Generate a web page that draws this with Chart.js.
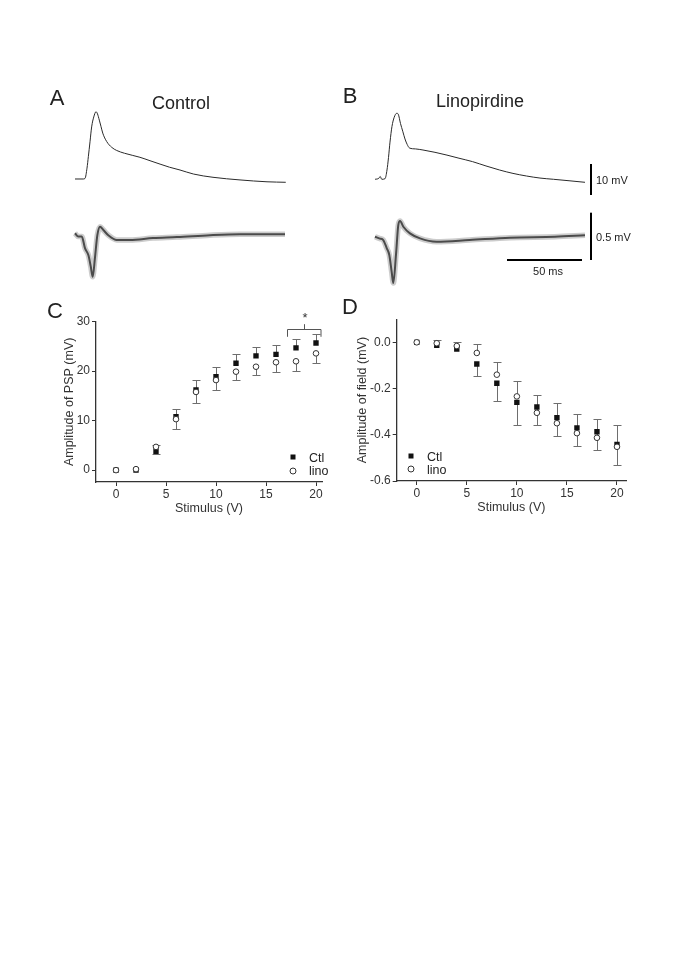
<!DOCTYPE html>
<html>
<head>
<meta charset="utf-8">
<script src="https://cdn.jsdelivr.net/npm/chart.js@4.4.0/dist/chart.umd.min.js"></script>
<style>
  html,body{margin:0;padding:0;background:#fff;}
  body{width:685px;height:969px;position:relative;overflow:hidden;font-family:"Liberation Sans",Arial,sans-serif;color:#222;}
  .box{position:absolute;}
  .lbl{position:absolute;white-space:nowrap;line-height:1;transform:translate(-50%,-50%);color:#222;}
  .lft{position:absolute;white-space:nowrap;line-height:1;transform:translate(0,-50%);color:#222;}
  .sq{position:absolute;width:5px;height:5px;background:#111;transform:translate(-50%,-50%);}
  .ci{position:absolute;width:5px;height:5px;border:1px solid #333;border-radius:50%;background:#fff;transform:translate(-50%,-50%);}
</style>
</head>
<body>
<div class="box" style="left:60px;top:100px;"><canvas id="cA" width="240" height="200"></canvas></div>
<div class="box" style="left:360px;top:100px;"><canvas id="cB" width="280" height="200"></canvas></div>
<div class="box" style="left:40px;top:300px;"><canvas id="cC" width="300" height="230"></canvas></div>
<div class="box" style="left:340px;top:300px;"><canvas id="cD" width="300" height="230"></canvas></div>

<div class="lbl" style="left:57px;top:98px;font-size:22px;">A</div>
<div class="lbl" style="left:181px;top:103px;font-size:18px;">Control</div>
<div class="lbl" style="left:350px;top:96px;font-size:22px;">B</div>
<div class="lbl" style="left:480px;top:101px;font-size:18px;">Linopirdine</div>
<div class="lbl" style="left:55px;top:311px;font-size:22px;">C</div>
<div class="lbl" style="left:350px;top:307px;font-size:22px;">D</div>

<div class="lft" style="left:596px;top:180px;font-size:11px;">10 mV</div>
<div class="lft" style="left:596px;top:237px;font-size:11px;">0.5 mV</div>
<div class="lbl" style="left:548px;top:271px;font-size:11px;">50 ms</div>

<div class="sq" style="left:293px;top:457px;"></div>
<div class="lft" style="left:309px;top:458px;font-size:12.5px;">Ctl</div>
<div class="ci" style="left:293px;top:471px;"></div>
<div class="lft" style="left:309px;top:471px;font-size:12.5px;">lino</div>

<div class="sq" style="left:411px;top:456px;"></div>
<div class="lft" style="left:427px;top:457px;font-size:12.5px;">Ctl</div>
<div class="ci" style="left:411px;top:469px;"></div>
<div class="lft" style="left:427px;top:470px;font-size:12.5px;">lino</div>

<script>
// ---------- DATA ----------
// Traces (time in ms, voltage in mV)
const tPspA = [0, 5.5, 6.7, 8, 8.9, 10, 11.1, 12.5, 14, 15, 16.2, 17.3, 18.5, 21.1, 24.5, 27.8, 33, 43.3, 50, 56.7, 63, 70, 79, 92, 110, 128, 140.5];
const vPspA = [0, 0, 0.2, 3.5, 7.2, 12, 16.8, 20, 21.7, 21, 19, 17, 14.8, 12.1, 10.2, 9.2, 8.3, 7.0, 5.9, 4.8, 3.8, 2.9, 1.6, 0.55, -0.3, -0.9, -1.06];
const tFieldA = [0, 2.2, 4.5, 6.7, 8.9, 10.5, 11.8, 13.3, 14.9, 16.7, 18.9, 22.2, 27.8, 36.7, 52, 68, 90, 110, 140];
const vFieldA = [0, -0.035, -0.035, -0.16, -0.23, -0.35, -0.46, -0.26, -0.02, 0.07, 0.035, -0.02, -0.07, -0.07, -0.05, -0.04, -0.02, -0.01, -0.01];

const tPspB = [0, 2.5, 3.5, 4.5, 6.7, 8, 9, 10, 11.3, 12.8, 14.5, 15.5, 17, 18.5, 20, 21.5, 23, 27, 32, 40, 48, 56, 65, 74, 83, 92, 101, 110, 119, 130, 140];
const vPspB = [0, 0.3, 0.9, 0, 0.2, 3, 7, 12, 17, 20, 21.3, 21, 18, 15.5, 13, 11.2, 10.1, 9.8, 9.45, 8.7, 7.8, 6.8, 5.7, 4.3, 3.0, 1.9, 1.06, 0.4, 0, -0.5, -0.97];
const tFieldB = [0, 3.3, 5.5, 7.8, 9.5, 11.1, 12.2, 14, 15.5, 16.7, 18.9, 23.3, 30, 41, 63, 90, 120, 140];
const vFieldB = [0, -0.02, -0.035, -0.12, -0.19, -0.37, -0.49, -0.19, 0.12, 0.165, 0.105, 0.035, -0.018, -0.053, -0.035, -0.01, 0, 0.015];

// Scale bars (data units)
const barPspMv = 10, barFieldMv = 0.5, barMs = 50;

// Stimulus–response data
const stimulus = [0, 2, 4, 6, 8, 10, 12, 14, 16, 18, 20];
const pspCtl  = [0, 0, 3.8, 10.8, 16.2, 18.9, 21.6, 23.1, 23.4, 24.7, 25.7];
const pspCtlSem  = [0, 0, 1.3, 1.6, 2.0, 2.0, 1.9, 1.8, 1.9, 1.8, 1.8];
const pspLino = [0, 0.2, 4.7, 10.3, 15.8, 18.2, 19.9, 20.9, 21.8, 22.0, 23.6];
const pspLinoSem = [0, 0, 1.5, 1.9, 2.3, 2.0, 1.7, 1.7, 2.0, 1.9, 2.0];

const fieldCtl  = [0, -0.013, -0.029, -0.094, -0.177, -0.26, -0.28, -0.326, -0.37, -0.387, -0.442];
const fieldCtlSem  = [0, 0, 0, 0.053, 0.077, 0.098, 0.077, 0.08, 0.077, 0.079, 0.09];
const fieldLino = [0, -0.004, -0.016, -0.046, -0.14, -0.234, -0.305, -0.35, -0.393, -0.413, -0.452];
const fieldLinoSem = [0, 0.013, 0.019, 0.04, 0.054, 0.066, 0.076, 0.087, 0.085, 0.082, 0.095];

const xTicks = [0, 5, 10, 15, 20];
const pspTicks = [0, 10, 20, 30];
const fieldTicks = [-0.6, -0.4, -0.2, 0.0];

// ---------- HELPERS ----------
const FONT = '"Liberation Sans", Arial, sans-serif';
const pts = (xs, ys) => xs.map((x, i) => ({x, y: ys[i]}));
Chart.defaults.font.family = FONT;
Chart.defaults.animation = false;

function traceChart(id, tP, vP, tF, vF, xr, y1r, y2r, bars) {
  const smooth = {cubicInterpolationMode: 'monotone', pointRadius: 0};
  const datasets = [
    {data: pts(tP, vP), yAxisID: 'y1', borderColor: '#2a2a2a', borderWidth: 1, ...smooth},
    {data: pts(tF, vF), yAxisID: 'y2', borderColor: 'rgba(110,110,110,0.35)', borderWidth: 5.5, ...smooth},
    {data: pts(tF, vF), yAxisID: 'y2', borderColor: '#3a3a3a', borderWidth: 2, ...smooth}
  ];
  if (bars) {
    const tb = 144;
    datasets.push({data: [{x: tb, y: -barPspMv / 2 - 0.06}, {x: tb, y: barPspMv / 2 - 0.06}], yAxisID: 'y1', borderColor: '#000', borderWidth: 2, pointRadius: 0});
    datasets.push({data: [{x: tb, y: -barFieldMv / 2 + 0.004}, {x: tb, y: barFieldMv / 2 + 0.004}], yAxisID: 'y2', borderColor: '#000', borderWidth: 2, pointRadius: 0});
    datasets.push({data: [{x: 88, y: -barFieldMv / 2 + 0.004}, {x: 88 + barMs, y: -barFieldMv / 2 + 0.004}], yAxisID: 'y2', borderColor: '#000', borderWidth: 2, pointRadius: 0});
  }
  return new Chart(document.getElementById(id), {
    type: 'line',
    data: {datasets},
    options: {
      responsive: false, events: [], layout: {padding: 0},
      plugins: {legend: {display: false}, tooltip: {enabled: false}},
      scales: {
        x: {type: 'linear', display: false, min: xr[0], max: xr[1]},
        y1: {type: 'linear', display: false, min: y1r[0], max: y1r[1]},
        y2: {type: 'linear', display: false, min: y2r[0], max: y2r[1]}
      }
    }
  });
}

traceChart('cA', tPspA, vPspA, tFieldA, vFieldA, [-10, 150], [-39.03, 25.48], [-0.705, 1.409], false);
traceChart('cB', tPspB, vPspB, tFieldB, vFieldB, [-10, 176.67], [-38.94, 25.58], [-0.669, 1.445], true);

function errPlugin(xs, sets) {
  return {
    id: 'errBars',
    beforeDatasetsDraw(chart) {
      const {ctx, scales: {x, y}} = chart;
      ctx.save();
      ctx.strokeStyle = '#6e6e6e';
      ctx.lineWidth = 1;
      sets.forEach(s => {
        s.vals.forEach((v, i) => {
          const e = s.sem[i];
          if (!e) return;
          const px = Math.round(x.getPixelForValue(xs[i])) + 0.5;
          const p0 = y.getPixelForValue(v);
          const p1 = Math.round(y.getPixelForValue(v + s.dir * e)) + 0.5;
          ctx.beginPath();
          ctx.moveTo(px, p0); ctx.lineTo(px, p1);
          ctx.moveTo(px - 4, p1); ctx.lineTo(px + 4, p1);
          ctx.stroke();
        });
      });
      ctx.restore();
    }
  };
}

const bracketPlugin = {
  id: 'bracket',
  afterDatasetsDraw(chart) {
    const {ctx, scales: {x, y}} = chart;
    const xl = x.getPixelForValue(17.15), xr = x.getPixelForValue(20.5), xc = x.getPixelForValue(18.85);
    const yt = Math.round(y.getPixelForValue(28.45)) + 0.5, yb = y.getPixelForValue(26.95), yc = y.getPixelForValue(29.5);
    ctx.save();
    ctx.strokeStyle = '#555'; ctx.lineWidth = 1;
    ctx.beginPath();
    ctx.moveTo(xl, yb); ctx.lineTo(xl, yt); ctx.lineTo(xr, yt); ctx.lineTo(xr, yb);
    ctx.moveTo(xc, yt); ctx.lineTo(xc, yc);
    ctx.stroke();
    ctx.fillStyle = '#333';
    ctx.font = '13px ' + FONT;
    ctx.textAlign = 'center'; ctx.textBaseline = 'middle';
    ctx.fillText('*', x.getPixelForValue(18.9), y.getPixelForValue(30.6));
    ctx.restore();
  }
};

function axisOpts(min, max, ticks, title, fmt, fitSize, isY, titlePad) {
  return {
    type: 'linear', min, max,
    afterBuildTicks: s => { s.ticks = ticks.map(v => ({value: v})); },
    afterFit: s => { if (isY) s.width = fitSize; else s.height = fitSize; },
    grid: {display: true, drawOnChartArea: false, drawTicks: true, tickLength: 4, color: '#333', lineWidth: 1},
    border: {display: true, color: '#333', width: 1.3},
    ticks: {color: '#333', font: {size: 12, family: FONT}, padding: isY ? 2 : 1, callback: fmt, autoSkip: false, maxRotation: 0},
    title: {display: true, text: title, color: '#333', font: {size: 12.5, family: FONT}, padding: titlePad}
  };
}

function scatterChart(id, ctl, lino, sets, xr, yr, yTicks, yTitle, yFmt, geom, extra) {
  const plugins = [errPlugin(stimulus, sets)];
  if (extra) plugins.push(extra);
  return new Chart(document.getElementById(id), {
    type: 'scatter',
    data: {datasets: [
      {label: 'Ctl', data: pts(stimulus, ctl), pointStyle: 'rect', pointRadius: 3.8, backgroundColor: '#111', borderColor: '#111', borderWidth: 0, order: 2},
      {label: 'lino', data: pts(stimulus, lino), pointStyle: 'circle', pointRadius: 2.8, backgroundColor: '#fff', borderColor: '#333', borderWidth: 1, order: 1}
    ]},
    options: {
      responsive: false, events: [],
      layout: {padding: {left: 0, top: geom.top, right: geom.right, bottom: 0}},
      plugins: {legend: {display: false}, tooltip: {enabled: false}},
      scales: {
        x: axisOpts(xr[0], xr[1], xTicks, 'Stimulus (V)', v => String(v), geom.xh, false, {top: 0, bottom: geom.xtp}),
        y: axisOpts(yr[0], yr[1], yTicks, yTitle, yFmt, geom.yw, true, {top: geom.ytp, bottom: 0})
      }
    },
    plugins
  });
}

scatterChart('cC', pspCtl, pspLino,
  [{vals: pspCtl, sem: pspCtlSem, dir: 1}, {vals: pspLino, sem: pspLinoSem, dir: -1}],
  [-2.0, 20.6], [-2.4, 30], pspTicks, 'Amplitude of PSP (mV)', v => String(v),
  {top: 21.7, right: 18, xh: 48, yw: 56, xtp: 14, ytp: 22.5}, bracketPlugin);

scatterChart('cD', fieldCtl, fieldLino,
  [{vals: fieldLino, sem: fieldLinoSem, dir: 1}, {vals: fieldCtl, sem: fieldCtlSem, dir: -1}],
  [-2.0, 20.9], [-0.6, 0.1], fieldTicks, 'Amplitude of field (mV)', v => Number(v).toFixed(1),
  {top: 19.2, right: 14, xh: 49, yw: 56.7, xtp: 15, ytp: 15.5}, null);
</script>
</body>
</html>
